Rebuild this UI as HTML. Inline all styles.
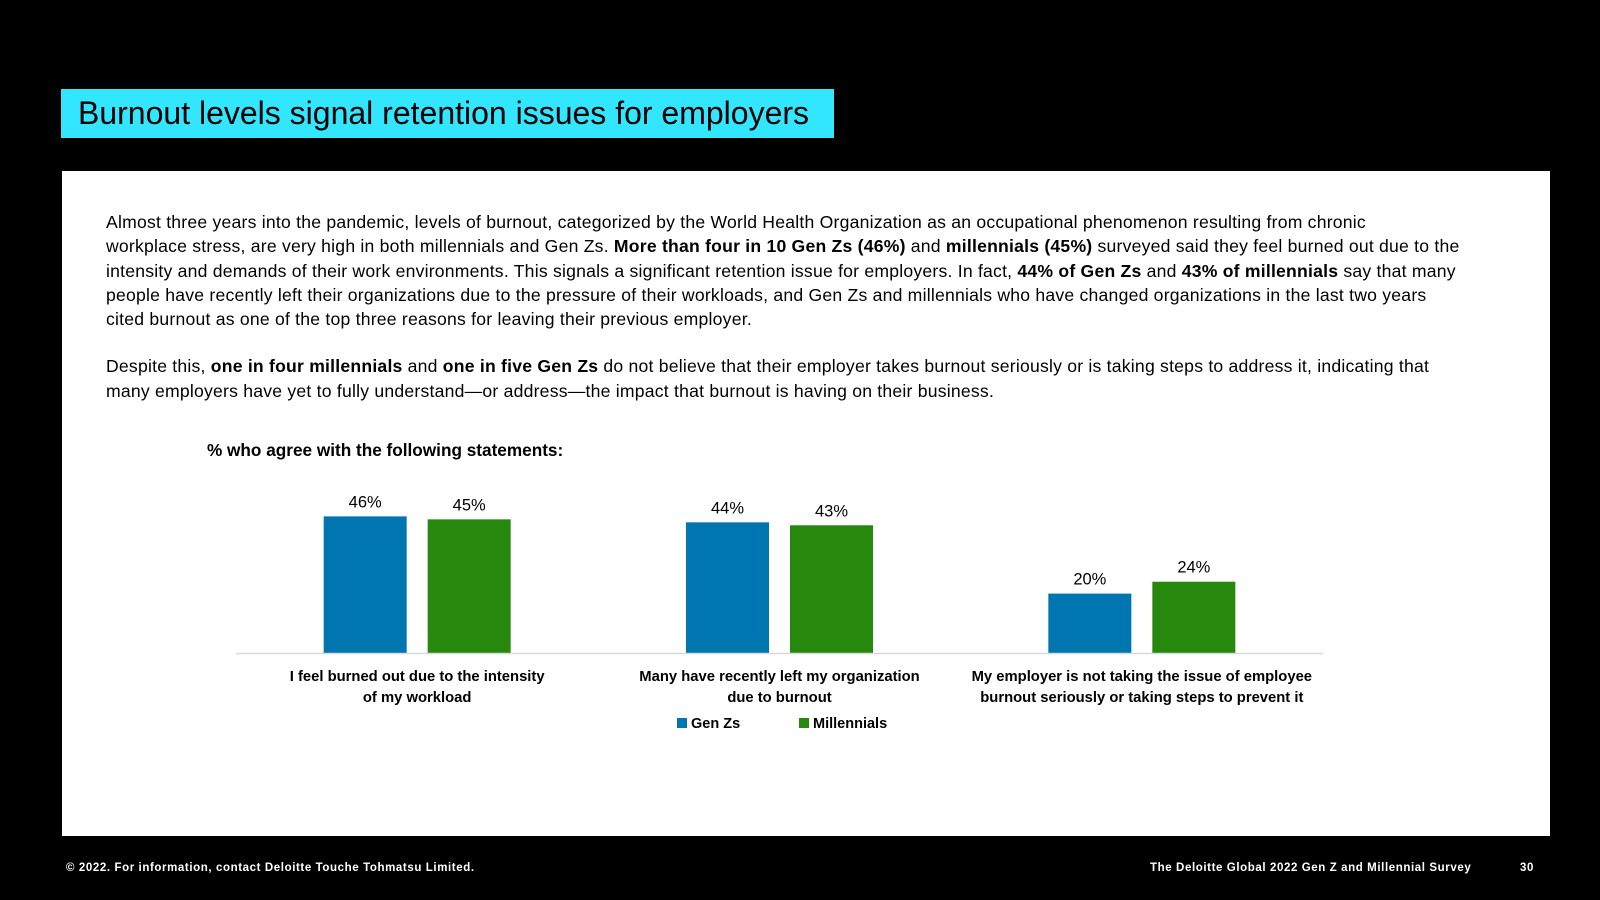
<!DOCTYPE html>
<html><head><meta charset="utf-8"><style>
body{margin:0;width:1600px;height:900px;background:#000;position:relative;overflow:hidden;font-family:"Liberation Sans",sans-serif}
#title{position:absolute;left:61px;top:89px;width:773px;height:49px;background:#33e6ff;color:#000;font-size:32px;line-height:49px;padding-left:17px;box-sizing:border-box}
#panel{position:absolute;left:62px;top:171px;width:1488px;height:665px;background:#fff}
#body{position:absolute;left:106px;top:210px;width:1450px;font-size:17.6px;letter-spacing:0.22px;line-height:24.3px;color:#000;white-space:nowrap}
#body p{margin:0 0 23px 0}
.foot{position:absolute;top:862px;color:#fff;font-size:11.5px;letter-spacing:0.6px;font-weight:bold}
svg{position:absolute;left:0;top:0}
</style></head><body>
<div id="title">Burnout levels signal retention issues for employers</div>
<div id="panel"></div>
<div id="body">
<p>Almost three years into the pandemic, levels of burnout, categorized by the World Health Organization as an occupational phenomenon resulting from chronic<br>workplace stress, are very high in both millennials and Gen Zs. <b>More than four in 10 Gen Zs (46%)</b> and <b>millennials (45%)</b> surveyed said they feel burned out due to the<br>intensity and demands of their work environments. This signals a significant retention issue for employers. In fact, <b>44% of Gen Zs</b> and <b>43% of millennials</b> say that many<br>people have recently left their organizations due to the pressure of their workloads, and Gen Zs and millennials who have changed organizations in the last two years<br>cited burnout as one of the top three reasons for leaving their previous employer.</p>
<p>Despite this, <b>one in four millennials</b> and <b>one in five Gen Zs</b> do not believe that their employer takes burnout seriously or is taking steps to address it, indicating that<br>many employers have yet to fully understand—or address—the impact that burnout is having on their business.</p>
</div>
<svg id="chart" width="1600" height="900"></svg>
<div class="foot" style="left:66px">© 2022. For information, contact Deloitte Touche Tohmatsu Limited.</div>
<div class="foot" style="left:1150px">The Deloitte Global 2022 Gen Z and Millennial Survey</div>
<div class="foot" style="left:1520px">30</div>
<script>
const categories=[["I feel burned out due to the intensity","of my workload"],["Many have recently left my organization","due to burnout"],["My employer is not taking the issue of employee","burnout seriously or taking steps to prevent it"]];
const genZ=[46,44,20];
const millennials=[45,43,24];
const seriesNames=["Gen Zs","Millennials"];
const colors=["#0076b0","#26890d"];
const svg=document.getElementById('chart');
const NS='http://www.w3.org/2000/svg';
const x0=236,x1=1323,base=653,pxPer=2.97,bw=83,gap=21;
const band=(x1-x0)/categories.length;
const y=v=>base-v*pxPer;
function mk(t,a){const e=document.createElementNS(NS,t);for(const k in a)e.setAttribute(k,a[k]);svg.appendChild(e);return e;}
const ct=mk('text',{x:207,y:456,'font-size':'17.2','font-weight':'bold','font-family':'Liberation Sans'});ct.textContent='% who agree with the following statements:';


[genZ,millennials].forEach((s,si)=>{s.forEach((v,i)=>{
 const c=x0+band*(i+0.5);
 const bx=si==0?c-gap/2-bw:c+gap/2;
 const r=mk('rect',{x:bx,y:y(v),width:bw,height:base-y(v),fill:colors[si]});
 
 
 const t=mk('text',{x:bx+bw/2,y:y(v)-9,'text-anchor':'middle','font-size':'16.5','font-family':'Liberation Sans'});
 t.textContent=v+'%';
 
 
});});
const ax=mk('line',{x1:x0,x2:x1,y1:base+0.5,y2:base+0.5,stroke:'#d9d9d9','stroke-width':1.5});


categories.forEach((c,i)=>{c.forEach((l,j)=>{
 const t=mk('text',{x:x0+band*(i+0.5),y:681+j*21,'text-anchor':'middle','font-size':'14.8','font-weight':'bold','font-family':'Liberation Sans'});
 t.textContent=l;
 
 
});});
const lx=[677,799];
seriesNames.forEach((n,i)=>{
 const r=mk('rect',{x:lx[i],y:718,width:10,height:10,fill:colors[i]});
 
 
 const t=mk('text',{x:lx[i]+14,y:728,'font-size':'14.5','font-weight':'bold','font-family':'Liberation Sans'});
 t.textContent=n;
 
 
});
</script>
</body></html>
